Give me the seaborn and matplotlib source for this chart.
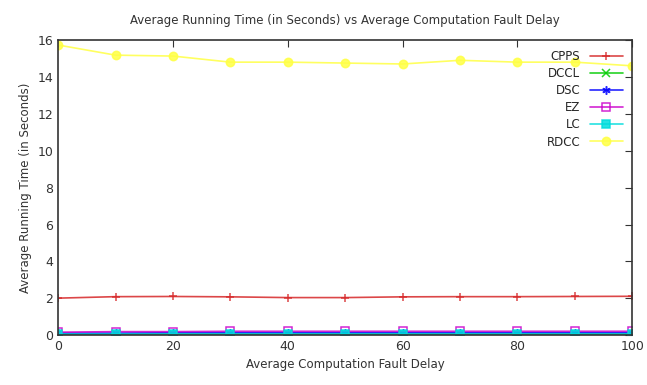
import matplotlib
matplotlib.use("Agg")
import matplotlib.pyplot as plt
import seaborn as sns
import pandas as pd

x = [0, 10, 20, 30, 40, 50, 60, 70, 80, 90, 100]
cpps = [2.0, 2.08, 2.09, 2.07, 2.03, 2.03, 2.07, 2.08, 2.08, 2.09, 2.1]
dccl = [0.03, 0.03, 0.03, 0.03, 0.03, 0.03, 0.03, 0.03, 0.03, 0.03, 0.03]
dsc = [0.1, 0.1, 0.12, 0.12, 0.12, 0.12, 0.12, 0.12, 0.12, 0.12, 0.12]
ez = [0.15, 0.18, 0.18, 0.2, 0.2, 0.2, 0.2, 0.2, 0.2, 0.2, 0.2]
lc = [0.05, 0.05, 0.05, 0.05, 0.05, 0.05, 0.05, 0.05, 0.05, 0.05, 0.05]
rdcc = [15.75, 15.2, 15.15, 14.82, 14.82, 14.77, 14.72, 14.92, 14.82, 14.82, 14.62]

series = ["CPPS", "DCCL", "DSC", "EZ", "LC", "RDCC"]
values = [cpps, dccl, dsc, ez, lc, rdcc]
colors = ["#d62728", "#00cc00", "#0000ff", "#cc00cc", "#00dddd", "#ffff44"]
markers = ["+", "x", (6, 2, 0), "s", "s", "o"]
fill = [True, True, True, False, True, True]

rows = []
for name, vals in zip(series, values):
    for xi, v in zip(x, vals):
        rows.append({"x": xi, "y": v, "series": name})
df = pd.DataFrame(rows)

sns.set_style("white")
plt.rcParams["font.family"] = ["DejaVu Sans"]
fig, ax = plt.subplots(figsize=(6.47, 3.85), dpi=100)
fig.subplots_adjust(left=0.09, right=0.977, top=0.895, bottom=0.13)

for name, c, m, f in zip(series, colors, markers, fill):
    sub = df[df["series"] == name]
    kw = dict(markeredgecolor=c, markeredgewidth=1.1)
    if m in ("s", "o"):
        kw["markerfacecolor"] = c if f else "none"
    sns.lineplot(data=sub, x="x", y="y", ax=ax, color=c, marker=m,
                 markersize=6,
                 linewidth=1.2, label=name, alpha=0.85, **kw)

ax.set_xlim(0, 100)
ax.set_ylim(0, 16)
ax.set_xticks(range(0, 101, 20))
ax.set_yticks(range(0, 17, 2))
ax.tick_params(direction="in", length=5, top=True, right=True, labelsize=9, colors="#333333")
for s in ax.spines.values():
    s.set_color("#333333")
    s.set_linewidth(1.2)
ax.set_title("Average Running Time (in Seconds) vs Average Computation Fault Delay",
             fontsize=8.5, color="#333333", pad=12)
ax.set_xlabel("Average Computation Fault Delay", fontsize=8.5, color="#333333")
ax.set_ylabel("Average Running Time (in Seconds)", fontsize=8.5, color="#333333")
leg = ax.legend(loc="upper right", frameon=False, fontsize=8.5, markerfirst=False,
                handlelength=2.8, labelspacing=0.35, borderaxespad=0.4)
fig.savefig("out.png", dpi=100)
